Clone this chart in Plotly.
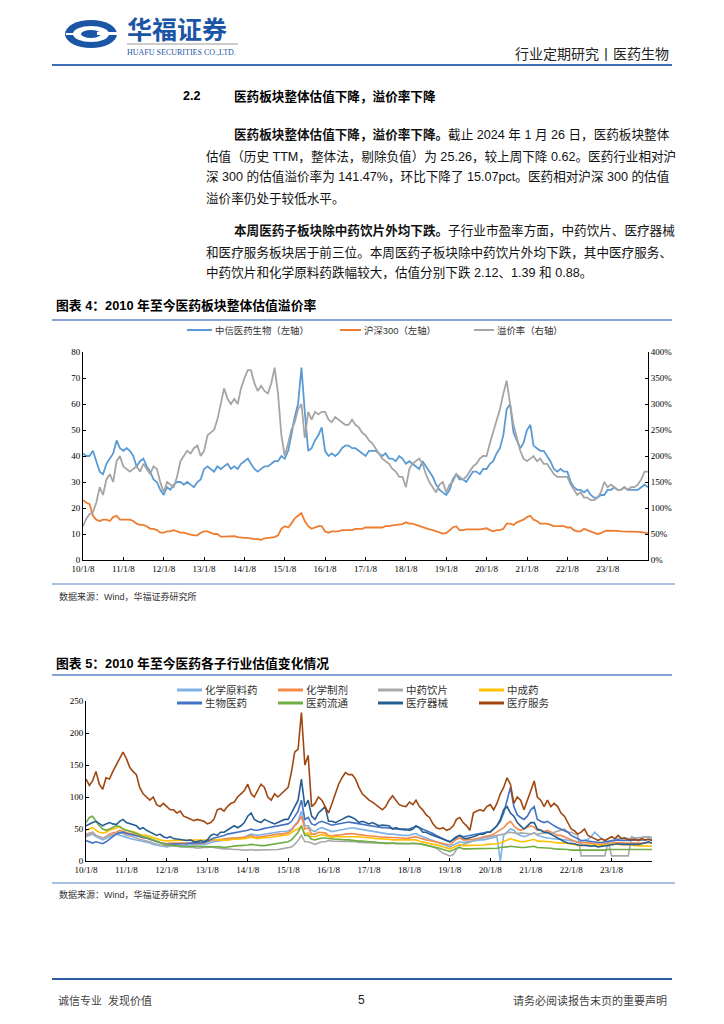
import pandas as pd
import plotly.graph_objects as go

# page is 724x1024; the browser adds an 8px body margin, so the figure is
# drawn 8px in from the top-left and sized to fit inside the window.
OFF = 8
FW, FH = 724 - 2 * OFF, 1024 - 2 * OFF

# ---------------- data ----------------
dates = pd.date_range("2010-01-01", "2024-01-01", freq="MS") + pd.Timedelta(days=7)
year_ticks = [f"{y}-01-08" for y in range(2010, 2024)]
year_labels = [f"{y % 100:02d}/1/8" for y in range(2010, 2024)]

# Chart 1
pharma_pe = [
    41, 40, 40, 42, 38, 34, 33, 37, 39, 41, 46, 43,
    42, 43, 42, 40, 36, 38, 39, 36, 34, 31, 30, 27,
    25, 28, 27, 29, 30, 30, 29, 30, 29, 28, 30, 31,
    35, 36, 35, 34, 36, 35, 36, 37, 35, 36, 35, 37,
    38, 39, 37, 35, 34, 35, 36, 36, 37, 38, 38, 40,
    39, 42, 48, 55, 60, 74, 57, 42, 43, 46, 48, 51,
    42, 40, 41, 40, 41, 43, 44, 44, 43, 43, 42, 41,
    40, 42, 42, 42, 41, 40, 41, 39, 39, 38, 40, 39,
    37, 38, 37, 36, 35, 38, 36, 34, 32, 29, 27, 26,
    25, 27, 31, 33, 31, 31, 30, 32, 34, 34, 33, 35,
    35, 37, 38, 41, 43, 48, 58, 60, 49, 46, 43, 45,
    50, 52, 44, 43, 42, 42, 40, 38, 35, 34, 35, 34,
    34, 30, 28, 27, 27, 26, 27, 25, 24, 24, 25, 25,
    27, 27, 28, 27, 27, 28, 27, 27, 27, 27, 28, 29,
    28,
]
hs300_pe = [
    23, 22, 21.5, 17, 15.5, 15, 15.5, 15.5, 15, 16.5, 17, 15.5,
    15.5, 15.5, 15.5, 15, 14, 13.5, 13.5, 13, 12, 12, 11.5, 10.5,
    10.5, 11, 11, 11.5, 11, 10.5, 10.5, 10, 9.8, 9.5, 9.5, 10.5,
    11, 11, 10.5, 10, 10, 9, 9, 9, 9.2, 9.2, 8.8, 8.6,
    8.5, 8.5, 8.2, 8, 8, 7.8, 8.3, 8.5, 8.7, 8.8, 9.5, 12,
    13, 12.5, 14, 16, 17, 18, 15, 13, 12, 12.5, 13, 13,
    11, 10.5, 11, 11, 11, 11.5, 11.5, 11.5, 11.5, 12, 12, 12,
    12.5, 12.5, 12.5, 12.5, 12.5, 12.5, 13, 13, 13.3, 13.5, 13.5, 13.8,
    14.5, 14, 14, 13.5, 13, 12.5, 12, 11.8, 11.5, 11, 10.5, 10.2,
    10.3, 11.5, 12.5, 13, 11.5, 11.5, 11.8, 11.8, 11.8, 11.7, 11.8, 12,
    12.2, 11.5, 11, 11.5, 11.5, 12, 14, 14, 13.5, 14.5, 15, 15.5,
    16.5, 17, 15.5, 15, 14, 14, 14, 13.5, 13, 13, 13, 13,
    12.5, 12.5, 11.5, 11, 11, 12, 11.5, 11, 10.5, 10, 10.3, 11,
    11.3, 11.3, 11.2, 11.2, 11, 11, 11, 11, 10.8, 10.8, 10.7, 10.5,
    10.3,
]
premium_pct = [
    65, 80, 88, 92, 110, 140, 125, 155, 165, 150, 190, 200,
    180, 175, 170, 175, 180, 170, 185, 175, 165, 180, 175, 150,
    130, 150, 145, 140, 160, 190, 200, 210, 205, 215, 220, 200,
    210, 240, 245, 250, 270, 300, 330, 310, 300, 310, 300, 330,
    350, 365, 365, 340, 325, 335, 325, 320, 340, 370, 320, 240,
    200, 225, 250, 265, 290, 300, 235, 285, 270, 285, 280, 285,
    285, 270, 265, 275, 270, 265, 260, 260, 270, 260, 255, 245,
    240, 230, 225, 215, 205, 195, 190, 185, 175, 170, 160, 160,
    140, 175, 185, 190, 195, 185, 165, 150, 140, 130, 145, 150,
    130, 145, 150, 165, 160, 155, 160, 170, 180, 185, 195, 200,
    200, 225, 245, 265, 290, 320, 345, 300, 260, 235, 210, 195,
    190, 195, 200, 190, 195, 185, 185, 175, 165, 160, 160, 160,
    160, 145, 135, 125, 130, 120, 120, 115, 115, 120, 130, 150,
    140, 145, 140, 135, 135, 140, 135, 140, 140, 145, 155, 170,
    170,
]
premium = [v / 100 for v in premium_pct]

# Chart 2 sub-industries
chem_api = [
    38, 40, 42, 38, 35, 33, 35, 38, 40, 42, 40, 38,
    36, 35, 34, 33, 31, 30, 30, 28, 26, 25, 24, 22,
    22, 23, 23, 24, 24, 24, 25, 25, 25, 25, 26, 26,
    27, 29, 30, 31, 32, 33, 33, 34, 35, 35, 36, 37,
    40, 42, 41, 40, 41, 42, 43, 44, 45, 45, 46, 46,
    47, 50, 56, 62, 78, 55, 55, 48, 46, 50, 52, 50,
    47, 46, 47, 48, 49, 50, 52, 52, 51, 50, 49, 48,
    48, 47, 46, 45, 44, 43, 42, 42, 41, 41, 40, 40,
    40, 42, 43, 40, 38, 36, 34, 32, 30, 28, 26, 24,
    22, 25, 28, 30, 29, 30, 30, 31, 32, 33, 33, 34,
    35, 36, 38, 0, 40, 45, 50, 48, 42, 40, 38, 40,
    42, 44, 40, 38, 37, 36, 35, 35, 34, 34, 33, 32,
    32, 30, 30, 31, 32, 34, 38, 45, 40, 35, 32, 30,
    32, 34, 35, 35, 35, 34, 35, 36, 36, 37, 38, 38,
    36,
]
chem_prep = [
    40, 42, 45, 40, 38, 36, 38, 42, 44, 45, 48, 46,
    44, 43, 42, 40, 37, 36, 36, 34, 32, 30, 29, 28,
    27, 28, 28, 29, 29, 28, 28, 28, 27, 27, 28, 28,
    30, 32, 33, 33, 34, 34, 35, 36, 36, 36, 36, 37,
    38, 40, 38, 37, 38, 39, 40, 40, 41, 42, 42, 43,
    44, 48, 55, 60, 70, 50, 52, 42, 42, 45, 45, 44,
    40, 39, 40, 40, 41, 42, 43, 43, 42, 41, 40, 40,
    39, 39, 38, 38, 37, 37, 37, 36, 36, 36, 36, 35,
    36, 37, 38, 36, 34, 33, 32, 31, 30, 28, 27, 26,
    25, 30, 34, 36, 33, 33, 33, 34, 35, 36, 37, 38,
    40, 42, 45, 48, 52, 58, 62, 55, 50, 48, 50, 52,
    55, 53, 48, 48, 46, 48, 45, 42, 40, 40, 38, 36,
    33, 31, 29, 28, 29, 29, 28, 27, 26, 26, 27, 28,
    29, 29, 29, 28, 28, 28, 28, 27, 28, 28, 28, 29,
    28,
]
tcm_pieces = [
    42, 44, 45, 40, 38, 36, 38, 40, 42, 44, 45, 43,
    40, 39, 38, 36, 34, 33, 32, 30, 28, 26, 25, 24,
    24, 24, 23, 23, 22, 22, 22, 21, 21, 20, 21, 21,
    21, 22, 21, 20, 20, 19, 19, 18, 18, 18, 17, 17,
    17, 18, 17, 17, 17, 17, 17, 17, 18, 18, 19, 20,
    20, 22, 26, 32, 40, 30, 30, 28, 26, 28, 30, 30,
    32, 31, 31, 31, 30, 31, 30, 30, 30, 29, 29, 29,
    29, 29, 28, 28, 28, 27, 28, 28, 27, 27, 27, 26,
    27, 28, 28, 27, 26, 25, 24, 22, 20, 16, 12, 10,
    8, 10, 18, 24, 26, 28, 30, 32, 34, 35, 36, 37,
    38, 38, 40, 40, 42, 44, 45, 44, 43, 44, 44, 43,
    42, 44, 42, 43, 44, 43, 43, 45, 46, 48, 50, 45,
    45, 42, 40, 8, 8, 8, 8, 8, 8, 8, 8, 30,
    8, 8, 8, 8, 8, 8, 38, 36, 36, 37, 37, 38,
    36,
]
tcm_patent = [
    48, 50, 52, 48, 45, 44, 45, 48, 50, 52, 53, 50,
    48, 47, 46, 44, 42, 40, 40, 38, 36, 34, 33, 32,
    31, 32, 32, 33, 33, 33, 33, 33, 32, 32, 32, 32,
    33, 34, 34, 33, 33, 32, 33, 34, 34, 34, 34, 35,
    36, 37, 36, 35, 36, 36, 37, 37, 38, 39, 40, 40,
    41, 44, 48, 50, 55, 42, 44, 38, 38, 40, 41, 40,
    38, 37, 38, 38, 38, 38, 39, 39, 38, 38, 37, 37,
    36, 36, 35, 35, 34, 34, 34, 33, 33, 33, 32, 32,
    33, 33, 33, 31, 30, 29, 28, 27, 26, 24, 22, 20,
    19, 21, 24, 26, 24, 24, 24, 24, 24, 25, 25, 26,
    26, 26, 27, 28, 30, 32, 35, 33, 31, 30, 30, 31,
    33, 34, 31, 31, 30, 31, 30, 29, 28, 28, 28, 27,
    26, 25, 24, 24, 25, 25, 26, 26, 25, 24, 25, 26,
    27, 27, 26, 26, 25, 25, 25, 24, 24, 24, 24, 24,
    23,
]
biopharma = [
    32, 30, 28, 30, 28, 27, 30, 34, 38, 42, 44, 45,
    43, 42, 41, 40, 38, 37, 36, 34, 32, 30, 29, 27,
    26, 26, 26, 27, 27, 27, 27, 28, 28, 28, 29, 29,
    31, 34, 36, 37, 38, 40, 42, 43, 44, 44, 45, 46,
    48, 50, 48, 48, 50, 51, 52, 53, 54, 55, 56, 57,
    58, 62, 70, 78, 95, 65, 68, 58, 56, 60, 62, 60,
    57, 56, 57, 58, 59, 60, 61, 60, 59, 58, 57, 56,
    55, 55, 54, 53, 52, 52, 52, 51, 50, 50, 49, 48,
    50, 52, 54, 52, 50, 48, 46, 43, 40, 37, 34, 32,
    30, 33, 37, 40, 38, 39, 40, 41, 42, 43, 44, 45,
    46, 50, 55, 62, 75, 95, 115, 85, 72, 68, 65, 70,
    80, 85, 65, 62, 60, 62, 58, 55, 52, 50, 48, 45,
    40, 37, 34, 32, 32, 31, 31, 30, 29, 29, 30, 31,
    32, 33, 33, 32, 32, 32, 32, 32, 32, 33, 33, 34,
    33,
]
distribution = [
    60, 68, 70, 62, 55, 50, 48, 50, 52, 55, 54, 50,
    48, 47, 45, 43, 40, 38, 37, 35, 32, 30, 28, 26,
    25, 25, 24, 24, 23, 23, 23, 22, 22, 22, 22, 22,
    22, 23, 23, 22, 22, 21, 22, 23, 23, 24, 24, 24,
    25, 26, 25, 24, 24, 24, 25, 25, 26, 27, 28, 29,
    30, 33, 38, 45, 55, 40, 40, 34, 33, 35, 36, 36,
    35, 34, 34, 34, 33, 33, 33, 32, 32, 31, 31, 30,
    30, 30, 29, 29, 28, 28, 28, 28, 27, 27, 27, 27,
    28, 28, 28, 27, 26, 25, 24, 23, 22, 20, 18, 16,
    15, 17, 20, 21, 19, 19, 19, 19, 19, 19, 19, 20,
    20, 20, 20, 21, 21, 22, 23, 22, 21, 21, 21, 22,
    22, 23, 21, 21, 20, 20, 20, 19, 19, 19, 18, 18,
    17, 17, 16, 16, 17, 17, 17, 17, 17, 17, 17, 18,
    18, 18, 18, 18, 17, 17, 17, 17, 17, 18, 18, 18,
    18,
]
devices = [
    55, 58, 60, 62, 58, 55, 58, 60, 58, 57, 62, 65,
    60, 58, 56, 55, 50, 52, 48, 45, 42, 40, 42, 38,
    36, 38, 35, 34, 33, 32, 32, 33, 30, 30, 32, 30,
    33, 40, 42, 40, 45, 45, 48, 52, 55, 52, 55, 60,
    70, 75, 65, 62, 60, 65, 62, 60, 58, 60, 62, 65,
    65, 75, 85, 95, 128, 85, 95, 70, 65, 75, 80, 85,
    62, 62, 60, 62, 65, 68, 70, 68, 65, 60, 62, 60,
    58, 60, 58, 55, 56, 55, 55, 50, 52, 50, 50, 50,
    48, 50, 55, 52, 45, 45, 42, 40, 38, 36, 35, 32,
    30, 34, 38, 40, 36, 35, 36, 38, 40, 42, 42, 45,
    45, 50, 55, 65, 80, 85, 75, 70, 60, 55, 50, 55,
    60, 60, 50, 48, 45, 45, 42, 38, 35, 33, 30, 28,
    28, 27, 25, 25, 24, 24, 23, 24, 22, 23, 24, 25,
    25, 26, 27, 26, 26, 25, 25, 25, 26, 27, 28, 30,
    28,
]
services = [
    128, 118, 125, 140, 120, 112, 130, 128, 140, 150, 160, 170,
    160, 146, 140, 135, 115, 105, 100, 95, 100, 88, 85, 90,
    85, 80, 80, 75, 78, 70, 68, 65, 63, 65, 64, 62,
    58, 60, 65, 80, 82, 78, 85, 90, 92, 100, 105, 110,
    120, 105, 100, 110, 120, 115, 100, 95, 105, 100, 105, 110,
    115, 140, 170, 175, 232, 150, 165, 85, 90, 100, 95, 85,
    75, 90, 105, 120, 130, 138, 135, 135, 128, 115, 105, 100,
    95, 92, 88, 85, 80, 85, 95, 102, 95, 88, 86, 85,
    92, 88, 95, 85, 80, 72, 68, 58, 52, 50, 52, 48,
    50, 55, 65, 68, 60, 55, 48, 75, 78, 80, 78, 85,
    88, 80, 90, 105, 115, 130, 120, 90, 100, 95, 80, 95,
    110, 125, 100, 95, 85, 95, 85, 90, 85, 75, 70, 60,
    50, 47, 42, 45, 50, 40, 38, 35, 32, 35, 32, 35,
    38, 35, 40, 35, 36, 33, 33, 34, 32, 35, 33, 34,
    32,
]

c1_names = ["中信医药生物（左轴）", "沪深300（左轴）", "溢价率（右轴）"]
c1_colors = ["#5B9BD5", "#ED7D31", "#A5A5A5"]

c2_names = ["化学原料药", "化学制剂", "中药饮片", "中成药",
            "生物医药", "医药流通", "医疗器械", "医疗服务"]
c2_series = [chem_api, chem_prep, tcm_pieces, tcm_patent,
             biopharma, distribution, devices, services]
c2_colors = ["#7FB2E5", "#F4894A", "#AAAAAA", "#FFC000",
             "#4472C4", "#70AD47", "#255E91", "#A0470F"]

# ---------------- helpers ----------------
CJK = "Liberation Sans, Noto Sans CJK SC"
SERIF = "Liberation Serif, Noto Sans CJK SC"
annotations = []
shapes = []


def px(x):
    return (x - OFF) / FW


def py(y):
    return 1 - (y - OFF) / FH


def text(x, y, s, size=12, color="#000", anchor="left", family=CJK):
    annotations.append(dict(
        x=px(x), y=py(y), xref="paper", yref="paper", text=s, showarrow=False,
        xanchor=anchor, yanchor="middle", borderpad=0,
        font=dict(size=size, color=color, family=family)))


def hline(x0, x1, y, color, width=1):
    shapes.append(dict(type="line", xref="paper", yref="paper",
                       x0=px(x0), x1=px(x1), y0=py(y), y1=py(y),
                       line=dict(color=color, width=width)))


def ellipse(x0, x1, y0, y1, color):
    shapes.append(dict(type="circle", xref="paper", yref="paper",
                       x0=px(x0), x1=px(x1), y0=py(y1), y1=py(y0),
                       fillcolor=color, line=dict(width=0)))


def rect(x0, x1, y0, y1, color):
    shapes.append(dict(type="rect", xref="paper", yref="paper",
                       x0=px(x0), x1=px(x1), y0=py(y1), y1=py(y0),
                       fillcolor=color, line=dict(width=0)))


# ---------------- figure ----------------
fig = go.Figure()

c1_data = [pharma_pe, hs300_pe, premium]
for i, (nm, col, ys) in enumerate(zip(c1_names, c1_colors, c1_data)):
    fig.add_trace(go.Scatter(x=dates, y=ys, mode="lines", name=nm,
                             line=dict(color=col, width=1.8),
                             xaxis="x", yaxis="y2" if i == 2 else "y",
                             showlegend=False))

for nm, col, ys in zip(c2_names, c2_colors, c2_series):
    fig.add_trace(go.Scatter(x=dates, y=ys, mode="lines", name=nm,
                             line=dict(color=col, width=1.6),
                             xaxis="x2", yaxis="y3", showlegend=False))

# ---------------- page decorations ----------------
BLUE = "#1B55A5"
# logo
ellipse(65, 117, 20, 48, BLUE)
ellipse(73, 109, 26, 42, "white")
ellipse(81, 101, 30, 38, BLUE)
rect(97, 118, 32, 35, "white")
rect(66, 80, 33, 35, "white")
text(126, 28, "<b>华福证券</b>", size=25, color=BLUE, family="Noto Sans CJK SC")
hline(127, 238, 44, "#9A9A9A", 1)
text(126, 53, "HUAFU SECURITIES CO.,LTD.", size=8, color=BLUE, family="Liberation Serif")
text(670, 54, "行业定期研究丨医药生物", size=14, color="#222", anchor="right")
hline(52, 672, 65, "#3E6DB5", 2)

# section heading & paragraphs
BODY = 12.6
text(182, 96, "<b>2.2</b>", size=BODY)
text(233, 96, "<b>医药板块整体估值下降，溢价率下降</b>", size=BODY)
para = [
    (233, 134, "<b>医药板块整体估值下降，溢价率下降。</b>截止 2024 年 1 月 26 日，医药板块整体"),
    (205, 156, "估值（历史 TTM，整体法，剔除负值）为 25.26，较上周下降 0.62。医药行业相对沪"),
    (205, 177, "深 300 的估值溢价率为 141.47%，环比下降了 15.07pct。医药相对沪深 300 的估值"),
    (205, 198, "溢价率仍处于较低水平。"),
    (233, 230, "<b>本周医药子板块除中药饮片外均下跌。</b>子行业市盈率方面，中药饮片、医疗器械"),
    (205, 252, "和医疗服务板块居于前三位。本周医药子板块除中药饮片外均下跌，其中医疗服务、"),
    (205, 273, "中药饮片和化学原料药跌幅较大，估值分别下跌 2.12、1.39 和 0.88。"),
]
for x, y, s in para:
    text(x, y, s, size=BODY, color="#111")

# chart 1 title and legend
text(55, 305, "<b>图表 4：2010 年至今医药板块整体估值溢价率</b>", size=12.8)
hline(52, 672, 320, "#5B86C5", 1.5)
leg1 = [(187, 212), (340, 361), (474, 494)]
for (x0, x1), nm, col in zip(leg1, c1_names, c1_colors):
    hline(x0, x1, 330, col, 2)
    text(x1 + 2, 330, nm, size=9.4, color="#333")
hline(52, 675, 584, "#8EAADB", 1.5)
text(58, 596, "数据来源：Wind，华福证券研究所", size=9, color="#333")

# chart 2 title and legend
text(55, 663, "<b>图表 5：2010 年至今医药各子行业估值变化情况</b>", size=12.8)
hline(52, 672, 675, "#5B86C5", 1.5)
leg_x = [177, 278, 378, 479]
for k, (nm, col) in enumerate(zip(c2_names, c2_colors)):
    x0 = leg_x[k % 4]
    y = 690 if k < 4 else 703
    hline(x0, x0 + 25, y, col, 3)
    text(x0 + 27, y, nm, size=10.5, color="#333")
hline(52, 675, 883, "#8EAADB", 1.5)
text(58, 894, "数据来源：Wind，华福证券研究所", size=9, color="#333")

# footer
hline(52, 672, 979, "#2E5C9E", 2)
text(57, 1000, "诚信专业  发现价值", size=11, color="#444")
text(361, 1000, "5", size=12, color="#222", anchor="center")
text(668, 1000, "请务必阅读报告末页的重要声明", size=11, color="#444", anchor="right")

# ---------------- axes ----------------
TF = dict(family=SERIF, size=9, color="#000")
axis_common = dict(showline=True, linecolor="#000", linewidth=1, showgrid=False,
                   zeroline=False, ticks="inside", ticklen=3, tickcolor="#000",
                   tickfont=TF, automargin=False)
x_range = ["2010-01-08", "2024-01-08"]

fig.update_layout(
    width=FW, height=FH,
    margin=dict(l=0, r=0, t=0, b=0, pad=0, autoexpand=False),
    paper_bgcolor="white", plot_bgcolor="white",
    showlegend=False,
    xaxis=dict(domain=[px(83), px(648)], anchor="y", type="date", range=x_range,
               tickvals=year_ticks, ticktext=year_labels, **axis_common),
    yaxis=dict(domain=[py(560), py(352)], anchor="x", range=[0, 80],
               dtick=10, **axis_common),
    yaxis2=dict(overlaying="y", side="right", anchor="x", range=[0, 4],
                dtick=0.5, tickformat=".0%", **axis_common),
    xaxis2=dict(domain=[px(86), px(652)], anchor="y3", type="date", range=x_range,
                tickvals=year_ticks, ticktext=year_labels, **axis_common),
    yaxis3=dict(domain=[py(861), py(701)], anchor="x2", range=[0, 250],
                dtick=50, **axis_common),
    annotations=annotations,
    shapes=shapes,
)

fig.write_html("out.html")
